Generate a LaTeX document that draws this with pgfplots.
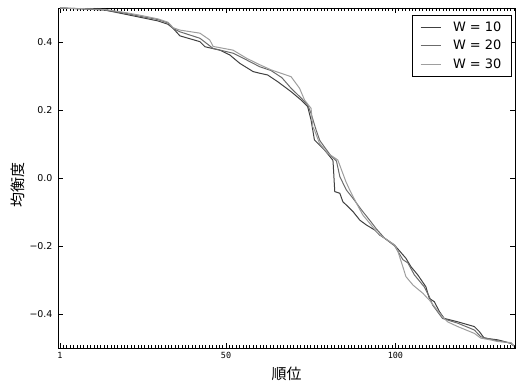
\documentclass[border=0pt]{standalone}
\usepackage{pgfplots}
\pgfplotsset{compat=1.18}
\usepackage{fontspec}
\setmainfont{DejaVu Sans}
\newfontfamily\cjk{Noto Sans CJK JP}
\newfontfamily\monofont{DejaVu Sans Mono}
\definecolor{wa}{gray}{0.25}
\definecolor{wb}{gray}{0.42}
\definecolor{wc}{gray}{0.62}
\begin{document}
\begin{tikzpicture}
\begin{axis}[
  at={(0,0)}, anchor=south west,
  scale only axis, width=456.7bp, height=340bp,
  xmin=0.5, xmax=135.3, ymin=-0.5, ymax=0.5,
  xtick={1,50,100}, xticklabels={1,50,100},
  minor xtick={1,...,135},
  ytick={-0.4,-0.2,0,0.2,0.4},
  yticklabels={−0.4,−0.2,0.0,0.2,0.4},
  tick align=inside,
  major tick length=5bp, minor tick length=3bp,
  every tick/.style={black, line width=0.6bp},
  axis line style={line width=0.9bp},
  xticklabel style={font=\monofont\fontsize{8.5}{10}\selectfont, inner sep=0pt, anchor=north, yshift=-4bp},
  yticklabel style={font=\fontsize{9.5}{11}\selectfont, inner sep=0pt, anchor=east, xshift=-5.6bp},
  xlabel={\cjk 順位},
  ylabel={\cjk 均衡度},
  every axis x label/.style={at={(axis description cs:0.5,0)}, anchor=center, yshift=-26bp, font=\fontsize{15}{17}\selectfont},
  every axis y label/.style={at={(axis description cs:-0.0876,0.479)}, anchor=center, rotate=90, font=\fontsize{15}{17}\selectfont},
  legend style={at={(1,1)}, anchor=north east, xshift=-3.3bp, yshift=-7bp, draw=black, line width=0.6bp,
    font=\fontsize{13}{15}\selectfont, inner xsep=8bp, inner ysep=5bp, row sep=3bp,
    /tikz/every odd column/.append style={column sep=10bp}},
  legend cell align=left,
  legend image code/.code={\draw[#1, line width=1bp] (0bp,0bp) -- (20bp,0bp);},
]
\addplot[wa, line width=1bp] coordinates {
(1,0.500) (10,0.497) (14.2,0.494) (20.1,0.482) (25.0,0.472) (29.9,0.462) (32.9,0.452) (34.4,0.440) (36.4,0.418)
(42.3,0.401) (43.8,0.386) (48.2,0.376) (51.1,0.362) (54.1,0.337) (58.0,0.313) (60.0,0.308) (62.3,0.303)
(65.3,0.283) (69.2,0.254) (72.2,0.229) (74.1,0.210) (75.1,0.171) (76.1,0.112) (79.1,0.082) (81.5,0.053)
(81.6,0.048) (82.1,-0.040) (83.6,-0.045) (84.5,-0.070) (86.0,-0.084) (87.5,-0.099) (89.5,-0.124) (91.4,-0.138)
(93.9,-0.153) (95.4,-0.168) (96.8,-0.177) (99.7,-0.197) (103.1,-0.236) (104.6,-0.261) (106.6,-0.285)
(109.0,-0.320) (110.0,-0.354) (111.5,-0.364) (113.0,-0.393) (114.4,-0.413) (118.4,-0.423) (123.3,-0.437)
(124.8,-0.452) (126.2,-0.471) (130.2,-0.476) (134.1,-0.486) (135,-0.494)
};
\addlegendentry{W = 10}
\addplot[wb, line width=1bp] coordinates {
(1,0.500) (14.2,0.494) (20.1,0.485) (25.0,0.475) (29.9,0.466) (32.9,0.456) (34.4,0.440) (36.4,0.430)
(42.3,0.411) (46.2,0.381) (52.1,0.367) (56.1,0.347) (60.0,0.327) (63.3,0.316) (66.5,0.295) (69.2,0.264)
(72.2,0.235) (74.1,0.215) (75.1,0.190) (76.6,0.141) (77.7,0.110) (79.5,0.085) (81.0,0.065) (82.6,0.050)
(83.6,0.004) (85.5,-0.035) (87.5,-0.060) (90.0,-0.094) (92.4,-0.124) (94.4,-0.150) (96.8,-0.177)
(99.8,-0.200) (102.2,-0.240) (103.7,-0.250) (105.6,-0.285) (108.5,-0.320) (110.0,-0.349) (111.0,-0.374)
(113.9,-0.413) (118.4,-0.427) (123.3,-0.447) (125.2,-0.467) (130.2,-0.479) (134.1,-0.486) (135,-0.494)
};
\addlegendentry{W = 20}
\addplot[wc, line width=1bp] coordinates {
(1,0.500) (14.2,0.496) (20.1,0.487) (25.0,0.478) (29.9,0.468) (32.9,0.458) (34.4,0.442) (36.4,0.435)
(42.3,0.426) (45.2,0.406) (46.2,0.387) (52.1,0.376) (56.1,0.352) (60.0,0.333) (63.3,0.318) (69.2,0.298)
(71.7,0.264) (73.2,0.229) (75.1,0.205) (75.6,0.151) (76.1,0.141) (77.6,0.102) (80.0,0.073) (83.0,0.053)
(85.4,-0.011) (86.5,-0.035) (88.5,-0.074) (90.4,-0.109) (92.4,-0.133) (94.9,-0.163) (96.8,-0.177)
(99.8,-0.197) (100.7,-0.215) (102.2,-0.261) (103.1,-0.290) (105.2,-0.315) (108.1,-0.339) (109.5,-0.354)
(110.1,-0.360) (113.9,-0.408) (115.4,-0.423) (118.4,-0.437) (123.3,-0.457) (125.2,-0.471) (128,-0.476)
(130.2,-0.481) (134.1,-0.484) (135,-0.494)
};
\addlegendentry{W = 30}
\end{axis}
\pgfresetboundingbox
\path[use as bounding box] (-58.3bp,-39bp) rectangle (459.7bp,348bp);
\end{tikzpicture}
\end{document}
